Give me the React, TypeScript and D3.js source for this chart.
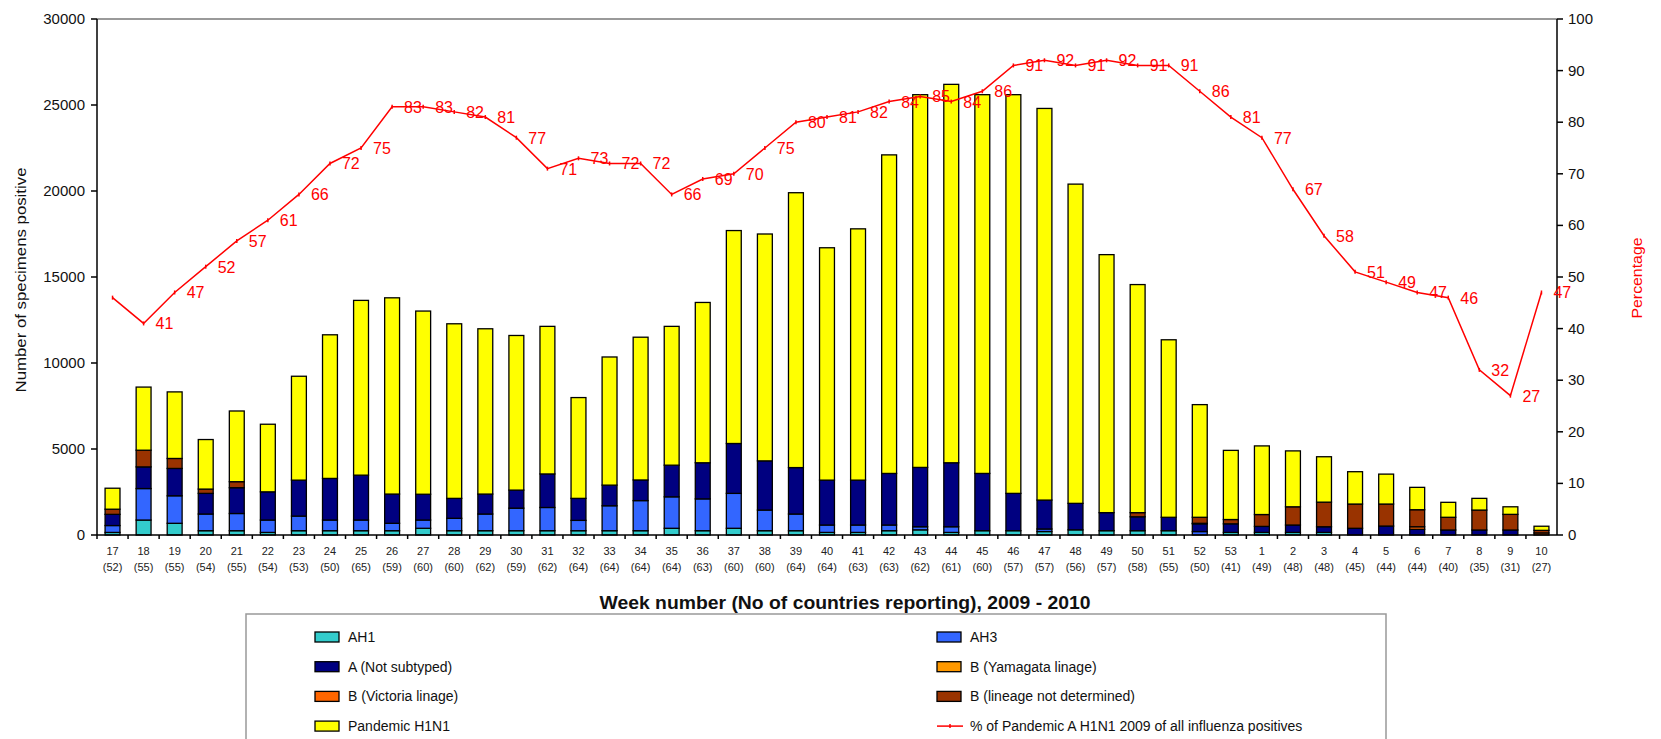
import React from 'react';
import * as d3 from 'd3';

const weeks = ['17','18','19','20','21','22','23','24','25','26','27','28','29','30','31','32','33','34','35','36','37','38','39','40','41','42','43','44','45','46','47','48','49','50','51','52','53','1','2','3','4','5','6','7','8','9','10'];
const countries = [52,55,55,54,55,54,53,50,65,59,60,60,62,59,62,64,64,64,64,63,60,60,64,64,63,63,62,61,60,57,57,56,57,58,55,50,41,49,48,48,45,44,44,40,35,31,27];

const ah1 = [150,870,680,250,250,150,250,250,250,250,390,250,250,250,250,250,250,250,390,250,390,250,250,150,150,250,300,150,250,250,200,300,250,250,250,0,150,150,150,150,0,0,0,0,0,0,0];
const ah3 = [400,1830,1600,970,1000,720,850,620,620,430,480,720,970,1310,1350,600,1450,1750,1830,1850,2030,1200,970,430,430,330,180,330,0,0,150,0,0,0,0,200,0,0,0,0,0,0,0,0,0,0,0];
const aNotSubtyped = [650,1260,1590,1200,1500,1640,2090,2420,2610,1700,1500,1160,1160,1050,1950,1280,1200,1200,1840,2100,2900,2860,2700,2610,2610,3000,3450,3720,3330,2170,1680,1540,1050,810,780,450,500,350,430,330,390,520,330,290,290,290,0];
const bYamagata = [0,0,0,0,0,0,0,0,0,0,0,0,0,0,0,0,0,0,0,0,0,0,0,0,0,0,0,0,0,0,0,0,0,0,0,0,0,0,0,0,0,0,0,0,0,0,0];
const bVictoria = [0,0,0,0,0,0,0,0,0,0,0,0,0,0,0,0,0,0,0,0,0,0,0,0,0,0,0,0,0,0,0,0,0,0,0,30,0,0,0,0,0,0,150,0,0,0,120];
const bNotDetermined = [300,970,580,250,350,0,0,0,0,0,0,0,0,0,0,0,0,0,0,0,0,0,0,0,0,0,0,0,0,0,0,0,0,240,0,350,250,690,1060,1430,1410,1280,990,740,1160,910,150];
const pandemic = [1220,3670,3870,2880,4110,3930,6040,8350,10160,11410,10650,10150,9610,8990,8580,5860,7450,8300,8070,9320,12380,13190,15980,13510,14610,18520,21670,22000,22020,23180,22770,18560,15000,13260,10320,6550,4020,3990,3250,2640,1880,1740,1300,870,680,440,240];
const pctPandemic = [46,41,47,52,57,61,66,72,75,83,83,82,81,77,71,73,72,72,66,69,70,75,80,81,82,84,85,84,86,91,92,91,92,91,91,86,81,77,67,58,51,49,47,46,32,27,47];

const leftTicks = [0,5000,10000,15000,20000,25000,30000];
const rightTicks = [0,10,20,30,40,50,60,70,80,90,100];

const seriesNames = ['AH1','AH3','A (Not subtyped)','B (Yamagata linage)','B (Victoria linage)','B (lineage not determined)','Pandemic  H1N1'];
const seriesColors = ['#33CCCC','#3366FF','#000080','#FF9900','#FF6600','#993300','#FFFF00'];
const seriesData = [ah1, ah3, aNotSubtyped, bYamagata, bVictoria, bNotDetermined, pandemic];
const lineName = '% of Pandemic A H1N1 2009 of all influenza positives';

const W = 1661, H = 739;
const L = 97, R = 1557, T = 19, B = 535;
const FONT = '"Liberation Sans", Arial, sans-serif';

export default function App() {
  const x = d3.scaleBand<string>().domain(weeks.map((w, i) => i + '')).range([L, R]).padding(0);
  const step = x.step();
  const bw = step * 0.48;
  const y = d3.scaleLinear().domain([0, 30000]).range([B, T]);
  const y2 = d3.scaleLinear().domain([0, 100]).range([B, T]);

  const table = weeks.map((w, i) => {
    const o: any = { key: i + '' };
    seriesNames.forEach((s, k) => { o[s] = seriesData[k][i]; });
    return o;
  });
  const stacked = d3.stack().keys(seriesNames)(table as any);

  const cx = (i: number) => (x(i + '') as number) + step / 2;
  const line = d3.line<number>().x((d, i) => cx(i)).y(d => y2(d));

  const legendRows = [
    { col: 0, row: 0, s: 0 }, { col: 1, row: 0, s: 1 },
    { col: 0, row: 1, s: 2 }, { col: 1, row: 1, s: 3 },
    { col: 0, row: 2, s: 4 }, { col: 1, row: 2, s: 5 },
    { col: 0, row: 3, s: 6 },
  ];
  const legX = [315, 937];
  const legY = (r: number) => 637 + r * 29.7;

  return (
    <svg width={W} height={H} style={{ position: 'absolute', left: 0, top: 0, background: '#fff' }} fontFamily={FONT}>
      {/* bars */}
      {stacked.map((layer, k) => (
        <g key={k}>
          {layer.map((d, i) => {
            const h = y(d[0]) - y(d[1]);
            if (h <= 0) return null;
            return <rect key={i} x={cx(i) - bw / 2} y={y(d[1])} width={bw} height={h}
              fill={seriesColors[k]} stroke="#000" strokeWidth={1.3} />;
          })}
        </g>
      ))}
      {/* top border */}
      <line x1={L} x2={R} y1={T} y2={T} stroke="#9a9a9a" strokeWidth={2} />
      {/* left axis */}
      <line x1={L} x2={L} y1={T} y2={B} stroke="#000" strokeWidth={1.5} />
      {leftTicks.map(t => (
        <g key={t}>
          <line x1={L - 6} x2={L} y1={y(t)} y2={y(t)} stroke="#000" strokeWidth={1.5} />
          <text x={L - 12} y={y(t) + 5} textAnchor="end" fontSize={15} fill="#111">{t}</text>
        </g>
      ))}
      {/* right axis */}
      <line x1={R} x2={R} y1={T} y2={B} stroke="#000" strokeWidth={1.5} />
      {rightTicks.map(t => (
        <g key={t}>
          <line x1={R} x2={R + 6} y1={y2(t)} y2={y2(t)} stroke="#000" strokeWidth={1.5} />
          <text x={R + 11} y={y2(t) + 5} textAnchor="start" fontSize={15} fill="#111">{t}</text>
        </g>
      ))}
      {/* x axis */}
      <line x1={L} x2={R} y1={B} y2={B} stroke="#000" strokeWidth={1.5} />
      {weeks.map((w, i) => (
        <line key={'t' + i} x1={x(i + '') as number} x2={x(i + '') as number} y1={B} y2={B + 4} stroke="#000" strokeWidth={1.5} />
      ))}
      {weeks.map((w, i) => (
        <g key={'l' + i} fontSize={11} fill="#222" textAnchor="middle">
          <text x={cx(i)} y={555}>{w}</text>
          <text x={cx(i)} y={571}>({countries[i]})</text>
        </g>
      ))}
      {/* line */}
      <path d={line(pctPandemic) || ''} fill="none" stroke="#FF0000" strokeWidth={1.5} />
      {pctPandemic.map((p, i) => (
        <line key={'m' + i} x1={cx(i)} x2={cx(i)} y1={y2(p) - 2} y2={y2(p) + 2} stroke="#FF0000" strokeWidth={1.5} />
      ))}
      {pctPandemic.map((p, i) => i === 0 ? null : (
        <text key={'p' + i} x={cx(i) + 12} y={y2(p) + 6} fontSize={16} fill="#FF0000">{p}</text>
      ))}
      {/* axis titles */}
      <text transform="translate(26,280) rotate(-90)" textAnchor="middle" fontSize={14} fill="#111"
        textLength={225} lengthAdjust="spacingAndGlyphs">Number of specimens positive</text>
      <text transform="translate(1642,278) rotate(-90)" textAnchor="middle" fontSize={14} fill="#FF0000"
        textLength={81} lengthAdjust="spacingAndGlyphs">Percentage</text>
      <text x={845} y={609} textAnchor="middle" fontSize={19} fontWeight="bold" fill="#111"
        textLength={491} lengthAdjust="spacingAndGlyphs">Week number (No of countries reporting), 2009 - 2010</text>
      {/* legend */}
      <rect x={246} y={614} width={1140} height={140} fill="#fff" stroke="#999" strokeWidth={1.5} />
      {legendRows.map(r => (
        <g key={r.s}>
          <rect x={legX[r.col]} y={legY(r.row) - 5} width={24} height={10} fill={seriesColors[r.s]} stroke="#000" strokeWidth={1.3} />
          <text x={legX[r.col] + 33} y={legY(r.row) + 5} fontSize={14} fill="#111">{seriesNames[r.s]}</text>
        </g>
      ))}
      <line x1={legX[1]} x2={legX[1] + 26} y1={legY(3)} y2={legY(3)} stroke="#FF0000" strokeWidth={1.5} />
      <line x1={legX[1] + 13} x2={legX[1] + 13} y1={legY(3) - 2} y2={legY(3) + 2} stroke="#FF0000" strokeWidth={1.5} />
      <text x={legX[1] + 33} y={legY(3) + 5} fontSize={14} fill="#111">{lineName}</text>
    </svg>
  );
}
